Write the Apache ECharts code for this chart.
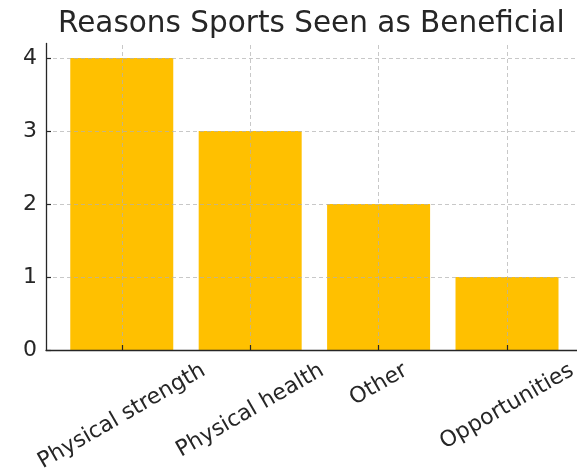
<!DOCTYPE html>
<html>
<head>
<meta charset="utf-8">
<script src="https://cdn.jsdelivr.net/npm/echarts@6/dist/echarts.min.js"></script>
<style>
html,body{margin:0;padding:0;background:#fff;}
#chart{width:577px;height:476px;}
</style>
</head>
<body>
<div id="chart"></div>
<script>
var categories=['Physical strength','Physical health','Other','Opportunities'];
var counts=[4,3,2,1];
var yTicks=[0,1,2,3,4];
var xTicks=[0,1,2,3];

var FONT='DejaVu Sans';
var TEXT='#262626';
var LABEL_SIZE=22;
var canvas=document.createElement('canvas');
var ctx=canvas.getContext('2d');
ctx.font=LABEL_SIZE+'px "'+FONT+'"';

var barData=[];
for(var i=0;i<categories.length;i++){
	barData.push([i,counts[i]]);
}
var labelData=[];
for(var i=0;i<categories.length;i++){
	labelData.push([i,0]);
}
var gridLines=[];
for(var i=0;i<xTicks.length;i++){
	gridLines.push({xAxis:xTicks[i]});
}
for(var i=1;i<yTicks.length;i++){
	gridLines.push({yAxis:yTicks[i]});
}

var chart=echarts.init(document.getElementById('chart'));
chart.setOption({
	animation:false,
	title:{
		text:'Reasons Sports Seen as Beneficial',
		left:53,
		top:4,
		textStyle:{fontFamily:FONT,fontSize:29.5,fontWeight:'normal',color:TEXT}
	},
	grid:{left:46,right:0,top:43.4,bottom:126},
	xAxis:{
		type:'value',
		min:-0.59,
		max:3.545,
		z:5,
		axisLine:{show:true,onZero:false,lineStyle:{color:TEXT,width:1.3}},
		axisTick:{show:true,inside:true,length:5,customValues:xTicks,lineStyle:{color:TEXT,width:1.2}},
		axisLabel:{show:false},
		splitLine:{show:false}
	},
	yAxis:{
		type:'value',
		min:0,
		max:4.2,
		z:5,
		axisLine:{show:true,onZero:false,lineStyle:{color:TEXT,width:1.3}},
		axisTick:{show:true,inside:true,length:5,customValues:yTicks,lineStyle:{color:TEXT,width:1.2}},
		axisLabel:{customValues:yTicks,margin:9,fontFamily:FONT,fontSize:LABEL_SIZE,color:TEXT},
		splitLine:{show:false}
	},
	series:[{
		type:'bar',
		data:barData,
		barWidth:103,
		itemStyle:{color:'#FFC000'},
		markLine:{
			silent:true,
			symbol:'none',
			label:{show:false},
			lineStyle:{color:'rgba(176,176,176,0.7)',type:[4,3],width:1},
			data:gridLines
		}
	},{
		type:'custom',
		data:labelData,
		clip:false,
		silent:true,
		renderItem:function(params,api){
			var idx=api.value(0);
			var p=api.coord([idx,0]);
			var txt=categories[idx];
			var w=ctx.measureText(txt).width;
			var h=LABEL_SIZE*1.164;
			var H=w*0.5+h*0.866;
			return {
				type:'text',
				x:p[0],
				y:p[1]+8+H/2,
				rotation:Math.PI/6,
				style:{
					text:txt,
					align:'center',
					verticalAlign:'middle',
					font:LABEL_SIZE+'px "'+FONT+'"',
					fill:TEXT
				}
			};
		}
	}]
});
</script>
</body>
</html>
